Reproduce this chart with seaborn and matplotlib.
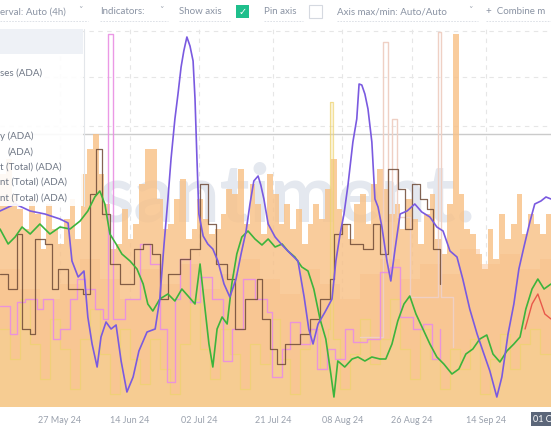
import numpy as np
import pandas as pd
import matplotlib
matplotlib.use("Agg")
import matplotlib.pyplot as plt
from matplotlib.patches import Rectangle
from matplotlib.lines import Line2D
import seaborn as sns

# ---------------- data (days since start, value in chart units 0..380) ----------------
START = pd.Timestamp("2024-05-11 12:00")

purple_days = [0.0, 3.9, 7.8, 11.6, 15.5, 17.6, 18.6, 20.2, 21.7, 22.7, 23.8, 25.1, 26.1, 27.4, 28.7, 30.0,
               31.3, 32.8, 34.4, 35.9, 38.0, 40.1, 41.3, 42.4, 43.4, 44.2, 45.2, 46.0, 46.8, 47.5, 48.3, 49.1,
               49.9, 50.4, 50.9, 51.4, 52.5, 53.7, 55.0, 56.3, 57.9, 59.4, 61.0, 62.3, 63.6, 64.6, 65.6, 66.7,
               67.4, 68.2, 69.3, 71.1, 72.9, 74.9, 77.0, 78.6, 79.8, 80.9, 82.2, 84.0, 85.8, 86.8, 87.9, 88.9,
               89.9, 91.2, 92.2, 92.8, 93.5, 94.3, 95.1, 96.1, 96.9, 97.7, 98.7, 100.0, 101.0, 102.1, 103.4,
               105.2, 107.2, 109.0, 111.1, 112.9, 114.5, 116.3, 118.1, 119.6, 121.4, 123.3, 124.8, 126.6,
               128.4, 129.7, 131.3, 132.8, 134.1, 135.4, 137.0, 138.2, 139.8, 141.1, 142.4]
purple_vals = [196, 203, 196, 193, 188, 184, 146, 130, 136, 90, 63, 40, 70, 85, 78, 82,
               46, 15, 30, 56, 75, 78, 108, 163, 208, 248, 288, 313, 340, 356, 370, 361,
               346, 308, 248, 193, 171, 163, 158, 146, 123, 110, 128, 153, 176, 203, 226, 231,
               222, 208, 183, 170, 162, 154, 146, 110, 78, 63, 83, 95, 108, 146, 173, 193,
               221, 265, 288, 323, 322, 313, 298, 265, 208, 200, 180, 146, 126, 158, 193,
               196, 203, 195, 190, 180, 176, 156, 150, 128, 98, 73, 56, 36,
               10, 30, 73, 103, 138, 160, 186, 203, 206, 210, 208]

green_days = [0.0, 2.1, 3.9, 5.7, 7.8, 10.3, 12.9, 15.5, 18.1, 20.7, 22.7, 24.5, 25.8, 27.1, 28.4, 30.0,
              31.5, 33.6, 35.4, 37.0, 38.2, 39.5, 41.3, 43.4, 45.2, 47.0, 48.6, 50.4, 51.7, 52.7, 54.0,
              55.0, 56.1, 57.4, 58.7, 59.9, 61.2, 62.5, 64.1, 65.9, 67.7, 69.3, 71.1, 72.9, 74.4, 76.2,
              78.0, 79.6, 81.1, 82.7, 84.2, 85.5, 86.3, 87.3, 89.1, 91.0, 92.5, 94.3, 96.1, 98.2, 99.7,
              101.3, 102.8, 104.4, 105.9, 107.5, 109.3, 111.1, 112.9, 114.7, 116.8, 118.6, 120.4, 122.2,
              124.0, 125.8, 127.4, 129.2, 131.0, 132.8, 134.4, 135.9, 137.5, 139.0, 140.6, 142.4]
green_vals = [178, 163, 170, 180, 173, 183, 173, 180, 178, 186, 196, 210, 216, 203, 173, 163,
              153, 146, 138, 123, 103, 96, 108, 113, 106, 118, 111, 103, 143, 108, 63,
              40, 78, 90, 83, 123, 153, 170, 176, 168, 162, 168, 160, 163, 156, 150,
              140, 136, 118, 88, 68, 33, 10, 46, 40, 48, 50, 46, 50, 48, 48,
              63, 86, 103, 111, 93, 78, 63, 50, 43, 33, 38, 53, 58,
              68, 72, 53, 45, 56, 63, 70, 98, 118, 128, 118, 123]

red_days = [135.7, 137.5, 139.0, 140.8, 142.4]
red_vals = [78, 103, 113, 93, 88]

bar_vals = [233, 248, 213, 198, 178, 208, 193, 158, 203, 178, 163, 188, 208, 168, 233, 258, 273, 233, 203,
            158, 163, 198, 168, 183, 223, 258, 258, 208, 178, 183, 208, 228, 168, 178, 208, 188, 173, 178,
            193, 218, 213, 238, 183, 223, 203, 173, 233, 213, 183, 203, 178, 198, 163, 183, 203, 188, 218,
            248, 198, 183, 168, 203, 213, 183, 223, 238, 218, 193, 203, 178, 208, 188, 163, 193, 213, 168,
            153, 203, 373, 213, 178, 173, 153, 138, 178, 148, 193, 168, 183, 213, 173, 193, 183, 173, 193]
BAR_STEP_DAYS = 1.5

peach_days = [0.0, 5.2, 10.3, 15.5, 20.7, 25.8, 31.0, 36.2, 41.3, 46.5, 51.7, 56.8, 62.0, 67.2, 72.4,
              77.5, 82.7, 87.9, 93.0, 98.2, 103.4, 108.5, 113.7, 118.9, 124.0, 129.2, 134.4, 139.5, 142.4]
peach_vals = [138, 118, 108, 123, 148, 128, 108, 138, 123, 143, 118, 133, 148, 128, 113,
              138, 123, 108, 133, 148, 128, 143, 133, 158, 143, 153, 138, 148, 143]

yellow_days = [0.0, 2.6, 5.2, 7.8, 10.3, 12.9, 15.5, 18.1, 20.7, 23.3, 25.8, 28.4, 31.0, 33.6, 36.2, 38.8,
               41.3, 43.9, 46.5, 49.1, 51.7, 54.3, 56.8, 59.4, 62.0, 64.6, 67.2, 69.8, 72.4, 74.9, 77.5,
               80.1, 82.7, 84.8, 85.3, 86.0, 87.9, 90.4, 93.0, 95.6, 98.2, 100.8, 103.4, 105.9, 108.5,
               111.1, 113.7, 116.3, 118.9, 121.4, 124.0, 126.6, 129.2, 131.8, 134.4, 137.0, 139.5, 142.4]
yellow_vals = [78, 48, 108, 63, 28, 88, 58, 18, 68, 98, 53, 13, 78, 48, 23, 68,
               38, 13, 63, 108, 58, 28, 78, 53, 18, 63, 43, 88, 48, 13, 58,
               78, 38, 78, 305, 68, 18, 53, 88, 43, 68, 108, 58, 28, 78,
               48, 18, 58, 38, 68, 13, 48, 73, 38, 63, 78, 53, 68]

pink_days = [0.0, 2.6, 4.4, 6.5, 9.6, 11.1, 13.7, 15.5, 18.1, 19.9, 22.0, 24.5, 26.6, 27.9, 29.2, 32.3,
             36.2, 38.8, 41.3, 43.2, 45.2, 46.5, 49.1, 51.7, 54.8, 57.6, 59.9, 62.8, 65.9, 69.0, 70.3,
             72.9, 74.9, 77.5, 80.1, 81.9, 84.5, 86.6, 89.1, 91.2, 94.8, 98.2, 100.8, 103.4, 106.7,
             109.3, 111.6, 113.7]
pink_vals = [101, 73, 105, 108, 98, 108, 68, 78, 108, 128, 118, 98, 88, 373, 88, 108,
             163, 143, 78, 25, 108, 148, 105, 130, 108, 46, 78, 128, 108, 95, 30,
             58, 85, 63, 78, 38, 58, 48, 78, 65, 68, 135, 140, 90, 78,
             83, 48, 78]

brown_days = [0.0, 2.1, 4.4, 5.7, 7.8, 9.0, 11.6, 13.4, 15.0, 17.6, 21.4, 23.3, 24.8, 26.4, 28.4, 31.0,
              34.6, 37.0, 39.3, 41.3, 43.4, 46.5, 49.1, 51.7, 53.7, 55.8, 58.7, 60.7, 63.3, 66.4, 67.7,
              69.8, 71.6, 73.6, 77.5, 80.1, 82.7, 85.3, 86.3, 88.4, 90.4, 93.8, 96.4, 98.2, 100.3,
              102.8, 104.7, 106.5, 108.5, 110.3, 111.9, 113.7]
brown_vals = [133, 118, 173, 78, 73, 168, 163, 118, 138, 118, 113, 213, 258, 193, 143, 123,
              158, 163, 153, 108, 133, 148, 158, 223, 183, 143, 128, 78, 108, 128, 88,
              58, 43, 63, 73, 88, 108, 128, 173, 183, 163, 158, 183, 153, 238,
              218, 178, 223, 208, 198, 158, 123]

light_days = [93.0, 99.0, 100.3, 101.3, 102.6, 106.0, 113.2, 114.0, 117.0]
light_vals = [70, 365, 140, 288, 190, 110, 375, 110, 60]

tick_dates = ["2024-05-27", "2024-06-14", "2024-07-02", "2024-07-21", "2024-08-08", "2024-08-26", "2024-09-14"]
tick_labels = ["27 May 24", "14 Jun 24", "02 Jul 24", "21 Jul 24", "08 Aug 24", "26 Aug 24", "14 Sep 24"]

legend_lines = ["ses (ADA)", "y (ADA)", "(ADA)", "t (Total) (ADA)", "nt (Total) (ADA)", "nt (Total) (ADA)"]
toolbar_items = ["erval: Auto (4h)", "Indicators:", "Show axis", "Pin axis", "Axis max/min: Auto/Auto", "+  Combine m"]


def to_dates(days):
    return START + pd.to_timedelta(np.asarray(days, dtype=float), unit="D")


# ---------------- figure ----------------
sns.set_theme(style="white")
plt.rcParams["font.family"] = ["Lato", "DejaVu Sans"]

W, H = 551, 431
fig = plt.figure(figsize=(W / 100, H / 100), dpi=100, facecolor="white")


def fx(x):
    return x / W


def fy(y):
    return 1 - y / H


PLOT_TOP, PLOT_BOT = 28, 408
ax = fig.add_axes([0, fy(PLOT_BOT), 1, (PLOT_BOT - PLOT_TOP) / H])
ax.set_facecolor("white")
for s in ax.spines.values():
    s.set_visible(False)

ax.set_xlim(START, START + pd.Timedelta(days=142.4))
ax.set_ylim(0, 380)

# watermark
ax.text(0.52, 0.55, "santiment.", transform=ax.transAxes, ha="center", va="center",
        fontsize=58, fontweight="bold", color="#e4e8ef", zorder=0.5, family=["Lato", "DejaVu Sans"])

# grid
ax.set_yticks([281, 330, 376])
ax.yaxis.grid(True, color="#e6e6e6", linestyle=(0, (4, 4)), linewidth=0.8, zorder=0)
ax.xaxis.grid(True, color="#e6e6e6", linestyle=(0, (4, 4)), linewidth=0.8, zorder=0)
ax.set_axisbelow(True)
ax.tick_params(axis="y", left=False, labelleft=False)
ax.axhline(273, color="#cbcbcb", lw=1.0, zorder=0.6)

# peach base area
ax.fill_between(to_dates(peach_days), peach_vals, step="post", color="#fde0c8", alpha=0.95, lw=0, zorder=1)

# orange bars
bar_x = START + pd.to_timedelta(np.arange(len(bar_vals)) * BAR_STEP_DAYS, unit="D")
ax.bar(bar_x, bar_vals, width=BAR_STEP_DAYS, align="edge", color="#f8c187", alpha=0.82, lw=0, zorder=1.5)

# yellow area
ax.fill_between(to_dates(yellow_days), yellow_vals, step="post", color="#f3dc90", alpha=0.3, lw=0, zorder=2)
sns.lineplot(x=to_dates(yellow_days), y=yellow_vals, ax=ax, color="#eed36e", lw=0.9, alpha=0.7,
             drawstyle="steps-post", estimator=None, zorder=2.1)

# light outlines
sns.lineplot(x=to_dates(light_days), y=light_vals, ax=ax, color="#efd0c4", lw=1.0,
             drawstyle="steps-post", estimator=None, zorder=2.2)

# pink step
sns.lineplot(x=to_dates(pink_days), y=pink_vals, ax=ax, color="#e98ee3", lw=1.0, alpha=0.9,
             drawstyle="steps-post", estimator=None, zorder=2.5)
# brown step
sns.lineplot(x=to_dates(brown_days), y=brown_vals, ax=ax, color="#6e4a36", lw=0.9, alpha=0.85,
             drawstyle="steps-post", estimator=None, zorder=2.6)
# red
sns.lineplot(x=to_dates(red_days), y=red_vals, ax=ax, color="#e8584a", lw=1.0, estimator=None, zorder=2.7)
# green
sns.lineplot(x=to_dates(green_days), y=green_vals, ax=ax, color="#3cb43c", lw=1.2, estimator=None, zorder=3)
# purple
sns.lineplot(x=to_dates(purple_days), y=purple_vals, ax=ax, color="#7a5ae0", lw=1.2, estimator=None, zorder=3.2)

ax.set_xlabel("")
ax.set_ylabel("")
ax.set_xticks(pd.to_datetime(tick_dates))
ax.set_xticklabels(tick_labels)
ax.tick_params(axis="x", bottom=False, length=0, pad=6, labelsize=6.5, labelcolor="#9aa1ad")

# ---------------- toolbar ----------------
tb_color = "#8a93a3"
tb_x = [0, 100, 179, 264, 337, 486]
for x, t in zip(tb_x, toolbar_items):
    fig.text(fx(x), fy(12), t, fontsize=7, color=tb_color, va="center", ha="left")
for x in [80, 161, 470]:
    fig.text(fx(x), fy(11), "˅", fontsize=6.5, color="#a0a7b3", va="center", ha="center",
             family=["DejaVu Sans"])
for xa, xb in [(0, 88), (100, 168), (179, 230), (264, 303), (337, 478), (486, 551)]:
    fig.add_artist(Line2D([fx(xa), fx(xb)], [fy(22), fy(22)], color="#d8dce3", lw=0.6,
                          linestyle=(0, (2, 1.5))))
fig.add_artist(Rectangle((fx(236), fy(19)), 13 / W, 13 / H, facecolor="#1fbf8c", edgecolor="none"))
fig.text(fx(242.5), fy(12.5), "✓", fontsize=7, color="white", ha="center", va="center",
         family=["DejaVu Sans"], fontweight="bold")
fig.add_artist(Rectangle((fx(309), fy(19)), 13 / W, 13 / H, facecolor="white", edgecolor="#d5d9e0", lw=0.8))

# ---------------- legend panel ----------------
fig.add_artist(Rectangle((0, fy(207)), 83 / W, (207 - 30) / H, facecolor="white", alpha=0.9,
                         edgecolor="none", zorder=5))
fig.add_artist(Rectangle((0, fy(55)), 83 / W, 25 / H, facecolor="#eef1f6", edgecolor="none", zorder=5.1))
fig.add_artist(Line2D([fx(83.5), fx(83.5)], [fy(30), fy(207)], color="#e3e6ea", lw=0.8, zorder=5.2))
leg_pos = [(0.5, 73), (0.5, 136), (8, 152), (0.5, 167), (0.5, 182), (0.5, 198)]
for (x, y), t in zip(leg_pos, legend_lines):
    fig.text(fx(x), fy(y), t, fontsize=7.0, color="#6f7785", va="center", ha="left", zorder=6)

# ---------------- current date badge ----------------
fig.text(fx(533), fy(420), "01 Oct 24", fontsize=6.5, color="white", va="center", ha="left", zorder=6,
         bbox=dict(boxstyle="square,pad=0.25", facecolor="#5b6679", edgecolor="none"))

fig.savefig("out.png", dpi=100, facecolor="white")
